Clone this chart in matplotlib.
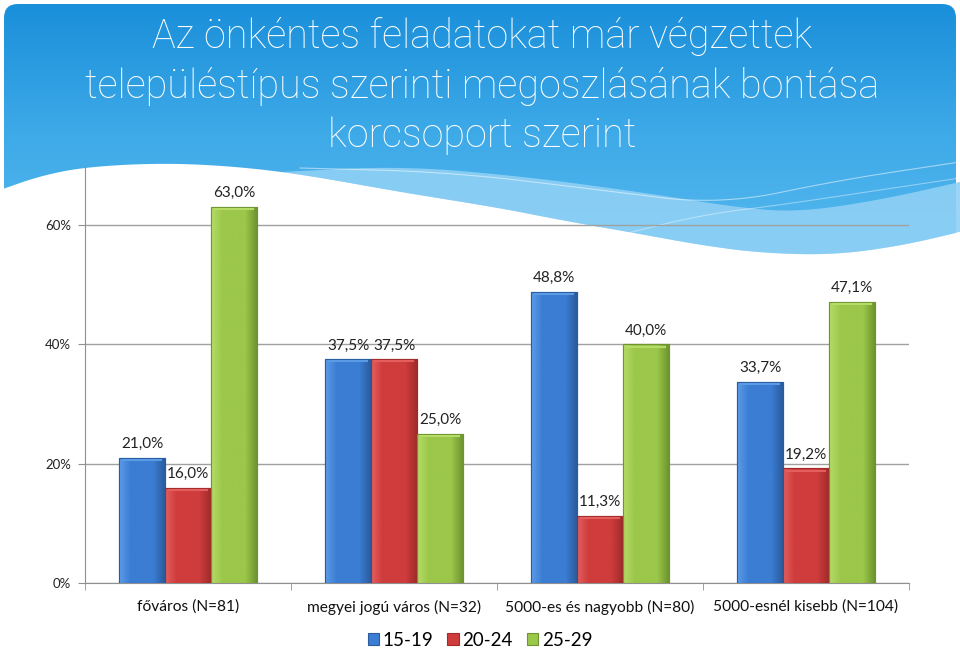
import numpy as np
import matplotlib
matplotlib.use("Agg")
import matplotlib.pyplot as plt
from matplotlib.patches import Polygon, FancyBboxPatch
from matplotlib.colors import LinearSegmentedColormap

plt.rcParams['font.family'] = ['Lato', 'DejaVu Sans']

# ---- data ----
categories = ['főváros (N=81)', 'megyei jogú város (N=32)',
              '5000-es és nagyobb (N=80)', '5000-esnél kisebb (N=104)']
series_names = ['15-19', '20-24', '25-29']
v_15_19 = [21.0, 37.5, 48.8, 33.7]
v_20_24 = [16.0, 37.5, 11.3, 19.2]
v_25_29 = [63.0, 25.0, 40.0, 47.1]
yticks = [0, 20, 40, 60]
ytick_labels = ['0%', '20%', '40%', '60%']
title = ("Az önkéntes feladatokat már végzettek\n"
         "településtípus szerinti megoszlásának bontása\n"
         "korcsoport szerint")

W, H = 960, 649
fig = plt.figure(figsize=(W / 100, H / 100), dpi=100)
fig.patch.set_facecolor('white')

# ---- background decoration (pixel coordinates) ----
bg = fig.add_axes([0, 0, 1, 1], zorder=-5)
bg.set_xlim(0, W)
bg.set_ylim(H, 0)
bg.axis('off')


def smooth(pts, n=4):
    pts = np.asarray(pts, float)
    for _ in range(n):
        q = 0.75 * pts[:-1] + 0.25 * pts[1:]
        r = 0.25 * pts[:-1] + 0.75 * pts[1:]
        new = np.empty((2 * len(q), 2))
        new[0::2] = q
        new[1::2] = r
        pts = np.vstack([pts[:1], new, pts[-1:]])
    return pts


grad = np.linspace(0, 1, 256).reshape(-1, 1)
cmap = LinearSegmentedColormap.from_list('hdr', ['#1a8fda', '#3eaae8', '#58b9ef'])
im = bg.imshow(grad, cmap=cmap, extent=[4, 956, 265, 4], aspect='auto', zorder=0)
clip = FancyBboxPatch((4, 4), 952, 640, boxstyle='round,pad=0,rounding_size=14',
                      transform=bg.transData, facecolor='none', edgecolor='none')
bg.add_patch(clip)
im.set_clip_path(clip)

band_top = smooth([(280, 172), (400, 166), (520, 176), (640, 192), (740, 208),
                   (800, 212), (880, 200), (960, 182)])
white_edge = smooth([(0, 190), (40, 176), (85, 167), (160, 163), (230, 166),
                     (300, 174), (400, 192), (500, 208), (560, 220), (640, 234),
                     (700, 245), (760, 253), (833, 255), (900, 246), (960, 232)])
band_poly = np.vstack([band_top, white_edge[::-1][white_edge[::-1][:, 0] >= 280]])
bg.add_patch(Polygon(band_poly, closed=True, facecolor='#8fd0f5', edgecolor='none',
                     alpha=0.9, zorder=1))
wpoly = np.vstack([white_edge, [(960, 649), (0, 649)]])
bg.add_patch(Polygon(wpoly, closed=True, facecolor='white', edgecolor='none', zorder=2))
s1 = smooth([(300, 168), (450, 172), (600, 190), (720, 205), (840, 180), (960, 162)])
bg.plot(s1[:, 0], s1[:, 1], color='white', lw=0.8, alpha=0.5, zorder=1.5)
s2 = smooth([(600, 240), (700, 215), (780, 205), (880, 190), (960, 178)])
bg.plot(s2[:, 0], s2[:, 1], color='white', lw=0.8, alpha=0.4, zorder=1.5)

fig.text(0.502, 1 - 86 / H, title, ha='center', va='center', color='white',
         fontsize=28.5, family=['Roboto', 'Lato', 'DejaVu Sans'], fontweight='light',
         linespacing=1.36)

# ---- chart ----
ax_left, ax_right = 85 / W, 909 / W
ax_bottom = (H - 583) / H
ax_top = (H - 165.5) / H
ax = fig.add_axes([ax_left, ax_bottom, ax_right - ax_left, ax_top - ax_bottom])
ax.patch.set_alpha(0)

x = np.arange(len(categories))
bw = 46 / 206
colors = ['#3b7dd3', '#cf3c3c', '#9bc74a']
lights = ['#5b9be6', '#e45e5e', '#b4dc66']
darks = ['#2a5c9f', '#a12b2b', '#6f9531']
for i, (vals, c, lt, dk, name) in enumerate(zip([v_15_19, v_20_24, v_25_29], colors,
                                                 lights, darks, series_names)):
    xs = x + (i - 1) * bw
    bars = ax.bar(xs, vals, width=bw, color=c, edgecolor=dk, linewidth=0.8,
                  label=name, zorder=3)
    gcm = LinearSegmentedColormap.from_list('g%d' % i, [lt, c, c, c, dk])
    for b in bars:
        bx, by = b.get_x(), b.get_y()
        bwid, bh = b.get_width(), b.get_height()
        gi = ax.imshow(np.linspace(0, 1, 64).reshape(1, -1), cmap=gcm, aspect='auto',
                       extent=[bx, bx + bwid, by, by + bh], zorder=3.1,
                       interpolation='bilinear')
        gi.set_clip_path(b)
        ax.bar(bx + bwid / 2, bh, width=bwid, fill=False, edgecolor=dk,
               linewidth=0.8, zorder=3.2)
        ax.plot([bx + bwid * 0.06, bx + bwid * 0.94], [by + bh - 0.35, by + bh - 0.35],
                color=lt, lw=1.5, zorder=3.3, solid_capstyle='butt')
    for xi, v in zip(xs, vals):
        ax.annotate(f"{v:.1f}%".replace('.', ','), (xi, v), xytext=(0, 5),
                    textcoords='offset points', ha='center', va='bottom',
                    fontsize=11, color='#222222')

ax.set_xlim(-0.5, 3.5)
ax.set_ylim(0, 70)
ax.set_yticks(yticks)
ax.set_yticklabels(ytick_labels, fontsize=9.5, color='#222222')
ax.yaxis.grid(True, color='#a0a0a0', linewidth=1, zorder=0)
ax.set_axisbelow(True)
ax.set_xticks(x)
ax.set_xticklabels(categories, fontsize=11.2, color='#111111')
ax.set_xticks(np.arange(-0.5, 4, 1), minor=True)
ax.tick_params(axis='x', which='major', length=0, pad=12)
ax.tick_params(axis='x', which='minor', length=5, color='#909090', direction='out')
ax.tick_params(axis='y', length=5, color='#909090', direction='out', pad=5)
for s in ['top', 'right']:
    ax.spines[s].set_visible(False)
for s in ['left', 'bottom']:
    ax.spines[s].set_color('#909090')

fig.legend(loc='center', bbox_to_anchor=(0.5, 1 - 640 / H), ncol=3, frameon=False,
           fontsize=13.5, handlelength=0.6, handleheight=0.6, handletextpad=0.2,
           columnspacing=0.75)

fig.savefig('out.png', dpi=100, facecolor='white')
